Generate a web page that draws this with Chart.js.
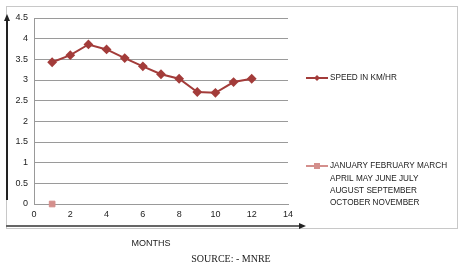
<!DOCTYPE html>
<html>
<head>
<meta charset="utf-8">
<script src="https://cdn.jsdelivr.net/npm/chart.js@4"></script>
<style>
	html, body { margin: 0; padding: 0; background: #fff; }
	#wrap { width: 463px; height: 262px; }
</style>
</head>
<body>
<div id="wrap"><canvas id="Speed_Plot" width="463" height="262"></canvas></div>
<script>
// month numbers and speed
const months = [1, 2, 3, 4, 5, 6, 7, 8, 9, 10, 11, 12];
const speed = [3.43, 3.6, 3.86, 3.74, 3.53, 3.33, 3.14, 3.03, 2.71, 2.69, 2.95, 3.03];
const month_names_x = [1];
const month_names_y = [0];

const speed_label = 'SPEED IN KM/HR';
const names_label = ['JANUARY FEBRUARY MARCH', 'APRIL MAY JUNE JULY', 'AUGUST SEPTEMBER', 'OCTOBER NOVEMBER'];
const x_title = 'MONTHS';
const source_text = 'SOURCE: - MNRE';

const FONT = "'Liberation Sans', Arial, sans-serif";
const LINE_COL = '#a33c3a';
const SQ_COL = '#d48f8c';

Chart.defaults.font.family = FONT;
Chart.defaults.font.size = 9;
Chart.defaults.color = '#222';

// frame, arrows, legend and titles
const decorations = {
	id: 'decorations',
	afterDraw(chart) {
		const ctx = chart.ctx;
		ctx.save();
		// outer frame
		ctx.strokeStyle = '#c8c8c8';
		ctx.lineWidth = 1;
		ctx.strokeRect(6.5, 6.5, 451, 222);

		// left arrow
		ctx.strokeStyle = '#222';
		ctx.lineWidth = 2;
		ctx.beginPath();
		ctx.moveTo(7, 200);
		ctx.lineTo(7, 19);
		ctx.stroke();
		ctx.fillStyle = '#222';
		ctx.beginPath();
		ctx.moveTo(7, 14);
		ctx.lineTo(4, 21);
		ctx.lineTo(10, 21);
		ctx.closePath();
		ctx.fill();

		// bottom arrow
		ctx.strokeStyle = '#666';
		ctx.lineWidth = 2;
		ctx.beginPath();
		ctx.moveTo(6, 226);
		ctx.lineTo(300, 226);
		ctx.stroke();
		ctx.fillStyle = '#222';
		ctx.beginPath();
		ctx.moveTo(306, 226);
		ctx.lineTo(299, 223);
		ctx.lineTo(299, 229);
		ctx.closePath();
		ctx.fill();

		// legend
		ctx.lineWidth = 2;
		ctx.strokeStyle = LINE_COL;
		ctx.beginPath();
		ctx.moveTo(306, 78);
		ctx.lineTo(328, 78);
		ctx.stroke();
		ctx.fillStyle = LINE_COL;
		ctx.beginPath();
		ctx.moveTo(317, 75);
		ctx.lineTo(320, 78);
		ctx.lineTo(317, 81);
		ctx.lineTo(314, 78);
		ctx.closePath();
		ctx.fill();

		ctx.strokeStyle = SQ_COL;
		ctx.beginPath();
		ctx.moveTo(306, 166);
		ctx.lineTo(328, 166);
		ctx.stroke();
		ctx.fillStyle = SQ_COL;
		ctx.fillRect(314, 163, 6, 6);

		ctx.fillStyle = '#222';
		ctx.font = '8.2px ' + FONT;
		ctx.textBaseline = 'middle';
		ctx.textAlign = 'left';
		ctx.fillText(speed_label, 330, 78);
		names_label.forEach((t, i) => ctx.fillText(t, 330, 166 + i * 12.3));

		// titles
		ctx.font = '9px ' + FONT;
		ctx.textAlign = 'center';
		ctx.fillText(x_title, 151, 244);
		ctx.font = "10px 'Liberation Serif', serif";
		ctx.fillText(source_text, 231, 259);
		ctx.restore();
	}
};

var Speed_Plot_Obj = new Chart(document.getElementById('Speed_Plot').getContext('2d'), {
	type: 'scatter',
	data: {
		datasets: [
			{
				// speed per month
				data: months.map((m, i) => ({ x: m, y: speed[i] })),
				showLine: true,
				borderColor: LINE_COL,
				backgroundColor: LINE_COL,
				borderWidth: 2,
				pointStyle: 'rectRot',
				pointRadius: 3.5,
				lineTension: 0,
			},
			{
				// month names series, a single square at the origin
				data: month_names_x.map((m, i) => ({ x: m, y: month_names_y[i] })),
				showLine: false,
				clip: false,
				borderColor: SQ_COL,
				backgroundColor: SQ_COL,
				pointStyle: 'rect',
				pointRadius: 4,
			}
		]
	},
	options: {
		responsive: false,
		animation: false,
		events: [],
		layout: { padding: { left: 0, right: 175, top: 18, bottom: 0 } },
		plugins: {
			legend: { display: false },
			tooltip: { enabled: false },
		},
		scales: {
			x: {
				type: 'linear',
				min: 0,
				max: 14,
				afterFit(axis) { axis.height = 58; },
				ticks: { stepSize: 2, padding: 2, color: '#222' },
				grid: { display: false, drawTicks: true, tickLength: 3, color: '#999' },
				border: { color: '#999' },
			},
			y: {
				min: 0,
				max: 4.5,
				afterFit(axis) { axis.width = 34; },
				ticks: {
					stepSize: 0.5,
					padding: 6,
					color: '#222',
					callback: (v) => String(v)
				},
				grid: { color: '#9a9a9a', drawTicks: false },
				border: { color: '#999' },
			}
		}
	},
	plugins: [decorations]
});
</script>
</body>
</html>
